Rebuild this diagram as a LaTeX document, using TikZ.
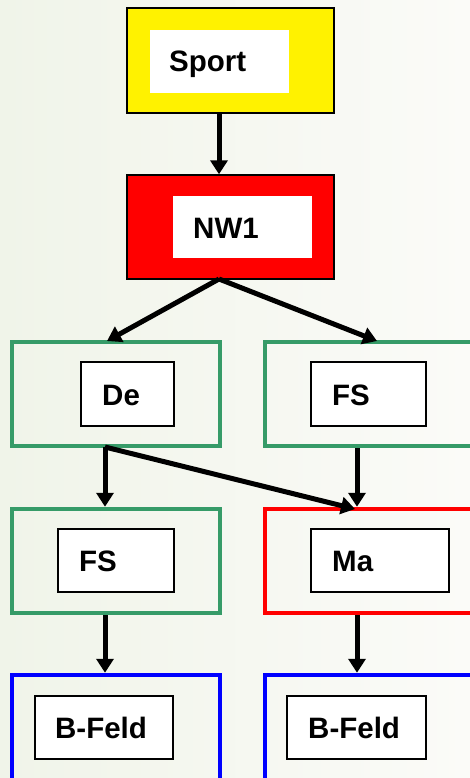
\documentclass[tikz,border=0pt]{standalone}
\usepackage{fontspec}
\setmainfont{Liberation Sans}
\usetikzlibrary{arrows.meta}
\definecolor{bgl}{RGB}{240,244,233}
\definecolor{bgr}{RGB}{251,251,248}
\definecolor{boxgreen}{RGB}{54,155,104}
\tikzset{
  outerbox/.style={rectangle, line width=4.5pt, inner sep=0pt, fill=none},
  filledbox/.style={rectangle, draw=black, line width=1.4pt, inner sep=0pt},
  innerbox/.style={rectangle, draw=black, line width=1.4pt, fill=white, inner sep=0pt},
  plainbox/.style={rectangle, fill=white, inner sep=0pt},
  lbl/.style={anchor=base west, inner sep=0pt, font=\fontsize{29.5}{32}\selectfont\bfseries},
  arr/.style={line width=5pt, -{Triangle[width=17pt,length=14pt]}},
}
\begin{document}
\begin{tikzpicture}[x=1pt,y=-1pt]
\clip (0,0) rectangle (470,778);
\shade[left color=bgl, right color=bgr] (0,0) rectangle (470,778);

% Sport
\node[filledbox, fill=yellow, minimum width=207pt, minimum height=105pt] (sport) at (230.5,60.5) {};
\node[plainbox, minimum width=139pt, minimum height=63pt] (sportin) at (219.5,61.5) {};
\node[lbl] (sporttxt) at (169,72) {Sport};

% NW1
\node[filledbox, fill=red, minimum width=207pt, minimum height=104pt] (nw) at (230.5,227) {};
\node[plainbox, minimum width=139pt, minimum height=62pt] (nwin) at (242.5,227) {};
\node[lbl] (nwtxt) at (193,238) {NW1};

% De
\node[outerbox, draw=boxgreen, minimum width=208pt, minimum height=104pt] (de) at (116,394) {};
\node[innerbox, minimum width=93pt, minimum height=64pt] (dein) at (127.5,394) {};
\node[lbl] (detxt) at (102,405) {De};

% FS right
\node[outerbox, draw=boxgreen, minimum width=208pt, minimum height=104pt] (fsr) at (369,394) {};
\node[innerbox, minimum width=115pt, minimum height=64pt] (fsrin) at (368.5,394) {};
\node[lbl] (fsrtxt) at (332,405) {FS};

% FS left
\node[outerbox, draw=boxgreen, minimum width=208pt, minimum height=104pt] (fsl) at (116,561) {};
\node[innerbox, minimum width=116pt, minimum height=63pt] (fslin) at (116,560.5) {};
\node[lbl] (fsltxt) at (79,571) {FS};

% Ma
\node[outerbox, draw=red, minimum width=208pt, minimum height=104pt] (ma) at (369,561) {};
\node[innerbox, minimum width=138pt, minimum height=63pt] (main) at (380,560.5) {};
\node[lbl] (matxt) at (332,571) {Ma};

% B-Feld left
\node[outerbox, draw=blue, minimum width=208pt, minimum height=108pt] (bl) at (116,729) {};
\node[innerbox, minimum width=138pt, minimum height=63pt] (blin) at (104,727.5) {};
\node[lbl] (bltxt) at (55,738) {B-Feld};

% B-Feld right
\node[outerbox, draw=blue, minimum width=208pt, minimum height=108pt] (br) at (369,729) {};
\node[innerbox, minimum width=139pt, minimum height=63pt] (brin) at (356.5,727.5) {};
\node[lbl] (brtxt) at (308,738) {B-Feld};

% connector columns
\coordinate (c1) at (219,0);
\coordinate (cl) at (105,0);
\coordinate (cr) at (357,0);
\coordinate (nwfoot) at (219,279);
\coordinate (defoot) at (105,447);
\coordinate (deleft) at (107,341);
\coordinate (deright) at (377,341);
\coordinate (mahit) at (355,509);

\draw[arr] (sport.south -| c1) -- (nw.north -| c1);
\draw[arr] (nwfoot) -- (deleft);
\draw[arr] (nwfoot) -- (deright);
\draw[arr] (defoot) -- (fsl.north -| cl);
\draw[arr] (defoot) -- (mahit);
\draw[arr] (fsr.south -| cr) -- (ma.north -| cr);
\draw[arr] (fsl.south -| cl) -- (bl.north -| cl);
\draw[arr] (ma.south -| cr) -- (br.north -| cr);
\end{tikzpicture}
\end{document}
